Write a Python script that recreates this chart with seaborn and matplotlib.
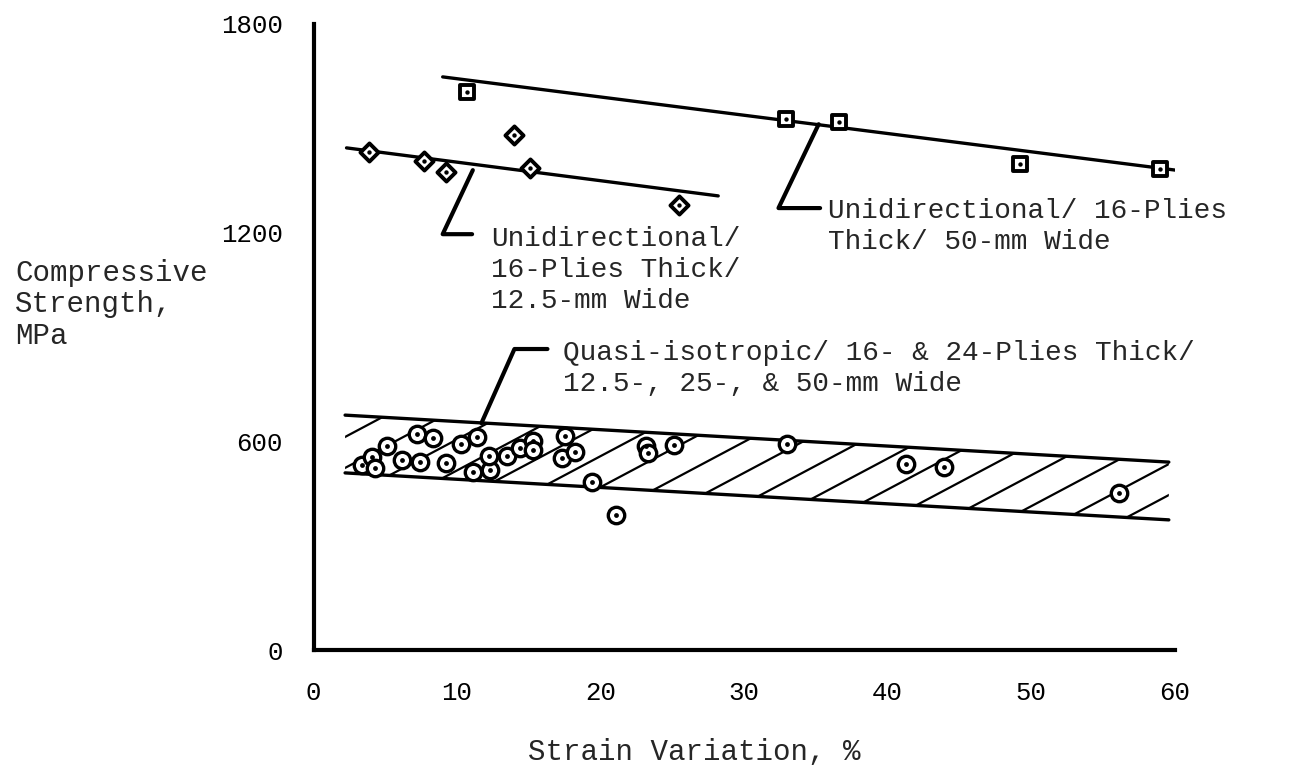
import numpy as np
import matplotlib
matplotlib.use("Agg")
import matplotlib.pyplot as plt
from matplotlib.patches import Polygon
import seaborn as sns

# --- data ---
# Unidirectional / 16 plies / 50-mm wide (squares)
uni50_strain = [10.7, 32.9, 36.6, 49.2, 59.0]
uni50_strength = [1603, 1526, 1517, 1397, 1382]
uni50_fit_strain = [9.0, 61.6]
uni50_fit_strength = [1647, 1371]

# Unidirectional / 16 plies / 12.5-mm wide (diamonds)
uni125_strain = [3.9, 7.7, 9.2, 14.0, 15.1, 25.5]
uni125_strength = [1431, 1405, 1374, 1480, 1385, 1279]
uni125_fit_strain = [2.3, 28.2]
uni125_fit_strength = [1443, 1305]

# Quasi-isotropic (circles)
quasi_strain = [3.4, 4.1, 4.3, 5.1, 7.2, 8.3, 6.2, 7.4, 9.2, 10.3, 11.4, 11.1,
                12.3, 12.2, 13.5, 14.4, 15.3, 15.3, 17.5, 17.3, 18.2, 19.4,
                21.1, 23.2, 23.3, 25.1, 33.0, 41.3, 43.9, 56.1]
quasi_strength = [532, 555, 523, 586, 621, 609, 546, 540, 537, 592, 612, 511,
                  517, 557, 557, 580, 601, 575, 615, 552, 569, 483,
                  388, 586, 566, 589, 592, 534, 526, 451]
band_strain = [2.2, 59.6]
band_upper = [675, 540]
band_lower = [509, 374]

# leader lines for the labels
leader_uni125_x = [11.1, 9.0, 11.05]
leader_uni125_y = [1379, 1195, 1195]
leader_uni50_x = [35.2, 32.4, 35.3]
leader_uni50_y = [1511, 1270, 1270]
leader_quasi_x = [11.7, 14.0, 16.3]
leader_quasi_y = [652, 865, 865]

x_ticks = [0, 10, 20, 30, 40, 50, 60]
y_ticks = [0, 600, 1200, 1800]

MONO = "Liberation Mono"


def make_chart():
    sns.set_style("white")
    plt.rcParams["font.family"] = [MONO, "DejaVu Sans Mono"]

    fig = plt.figure(figsize=(12.95, 7.73), dpi=100)
    ax = fig.add_axes([0.2421, 0.1591, 0.6649, 0.8103])

    # band of quasi-isotropic results, with hand-style hatching
    band = Polygon(np.column_stack([band_strain + band_strain[::-1],
                                    band_lower + band_upper[::-1]]),
                   closed=True, facecolor="none", edgecolor="none")
    ax.add_patch(band)
    slope = 21.9
    spacing = 3.67
    low_slope = (band_lower[1] - band_lower[0]) / (band_strain[1] - band_strain[0])
    for xb in np.arange(27.3 - spacing * 8, 64, spacing):
        yb = band_lower[0] + low_slope * (xb - band_strain[0])
        hx = np.array([xb - 2, xb + 12])
        hy = yb + slope * (hx - xb)
        ln, = ax.plot(hx, hy, color="black", lw=1.6, zorder=1)
        ln.set_clip_path(band)

    for ys in (band_upper, band_lower):
        sns.lineplot(x=band_strain, y=ys, color="black", lw=2.4, sort=False,
                     estimator=None, ax=ax, zorder=2)

    sns.lineplot(x=uni50_fit_strain, y=uni50_fit_strength, color="black",
                 lw=2.4, sort=False, estimator=None, ax=ax, zorder=2)
    sns.lineplot(x=uni125_fit_strain, y=uni125_fit_strength, color="black",
                 lw=2.4, sort=False, estimator=None, ax=ax, zorder=2)
    for lx, ly in ((leader_uni125_x, leader_uni125_y),
                   (leader_uni50_x, leader_uni50_y),
                   (leader_quasi_x, leader_quasi_y)):
        ax.plot(lx, ly, color="black", lw=3, solid_capstyle="round",
                zorder=2, clip_on=False)

    # markers: open symbol with a dot in the middle
    sns.scatterplot(x=quasi_strain, y=quasi_strength, marker="o", s=140,
                    facecolor="white", edgecolor="black", linewidth=2.4,
                    ax=ax, zorder=3)
    sns.scatterplot(x=quasi_strain, y=quasi_strength, marker="o", s=12,
                    color="black", linewidth=0, ax=ax, zorder=4)
    sns.scatterplot(x=uni50_strain, y=uni50_strength, marker="s", s=100,
                    facecolor="white", edgecolor="black", linewidth=2.8,
                    ax=ax, zorder=3)
    sns.scatterplot(x=uni50_strain, y=uni50_strength, marker="o", s=10,
                    color="black", linewidth=0, ax=ax, zorder=4)
    sns.scatterplot(x=uni125_strain, y=uni125_strength, marker="D", s=85,
                    facecolor="white", edgecolor="black", linewidth=2.8,
                    ax=ax, zorder=3)
    sns.scatterplot(x=uni125_strain, y=uni125_strength, marker="o", s=10,
                    color="black", linewidth=0, ax=ax, zorder=4)

    # labels
    ax.text(12.37, 1092, "Unidirectional/\n16-Plies Thick/\n12.5-mm Wide",
            fontsize=20, va="center", ha="left", linespacing=1.26)
    ax.text(35.85, 1218, "Unidirectional/ 16-Plies\nThick/ 50-mm Wide",
            fontsize=20, va="center", ha="left", linespacing=1.26)
    ax.text(17.39, 810, "Quasi-isotropic/ 16- & 24-Plies Thick/\n"
            "12.5-, 25-, & 50-mm Wide",
            fontsize=20, va="center", ha="left", linespacing=1.26)

    # axes look
    ax.set_xlim(0, 60)
    ax.set_ylim(0, 1800)
    sns.despine(ax=ax)
    for side in ("left", "bottom"):
        ax.spines[side].set_linewidth(3)
        ax.spines[side].set_color("black")
    ax.set_xticks(x_ticks)
    ax.set_yticks(y_ticks)
    ax.tick_params(axis="x", direction="in", length=8, width=2.5,
                   pad=22, labelsize=18.5, colors="black")
    ax.tick_params(axis="y", direction="in", length=11, width=2.5,
                   pad=22, labelsize=18.5, colors="black")

    ax.set_xlabel("Strain Variation, %", fontsize=21)
    ax.xaxis.set_label_coords(0.442, -0.163)
    ax.xaxis.label.set_va("center")
    ax.set_ylabel("Compressive\nStrength,\nMPa", fontsize=21, rotation=0,
                  ha="left", va="center", multialignment="left",
                  linespacing=1.17)
    ax.yaxis.set_label_coords(-0.3467, 0.552)

    fig.savefig("out.png", dpi=100)


if __name__ == "__main__":
    make_chart()
